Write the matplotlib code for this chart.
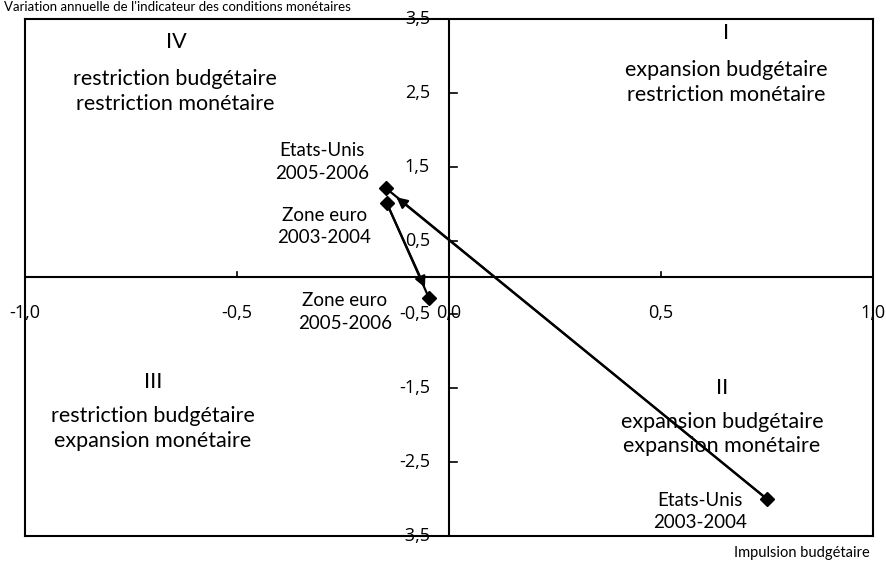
import matplotlib
matplotlib.use("Agg")
import matplotlib.pyplot as plt

plt.rcParams['font.family'] = ['Lato', 'DejaVu Sans']

# points (impulsion budgétaire, variation ICM)
us_x = [0.75, -0.149]
us_y = [-3.0, 1.21]
ze_x = [-0.147, -0.047]
ze_y = [1.01, -0.28]

xticks = [-1.0, -0.5, 0.0, 0.5, 1.0]
yticks = [3.5, 2.5, 1.5, 0.5, -0.5, -1.5, -2.5, -3.5]


def fr(v):
    return f"{v:.1f}".replace(".", ",")


fig = plt.figure(figsize=(8.86, 5.61), dpi=100)
ax = fig.add_axes([0.0282, 0.0446, 0.9571, 0.9216])
ax.set_xlim(-1.0, 1.0)
ax.set_ylim(-3.5, 3.5)

# outer frame
for s in ax.spines.values():
    s.set_linewidth(1.5)
    s.set_color('black')

# axes through origin
ax.axhline(0, color='black', lw=1.5)
ax.axvline(0, color='black', lw=1.5)
ax.set_xticks([])
ax.set_yticks([])

# tick marks and labels on the central axes
tkw = dict(fontsize=13, family=['Open Sans', 'DejaVu Sans'])
for t in xticks:
    ax.plot([t, t], [0, 0.08], color='black', lw=1.2)
    ax.text(t, -0.48, fr(t), ha='center', va='center', **tkw)
for t in yticks:
    ax.plot([0, 0.018], [t, t], color='black', lw=1.2)
    ax.text(-0.045, t, fr(t), ha='right', va='center', **tkw)

# series
ax.plot(us_x, us_y, color='black', lw=1.6, marker='D', ms=7.5, mfc='black')
ax.plot(ze_x, ze_y, color='black', lw=1.6, marker='D', ms=7.5, mfc='black')
ax.annotate('', xy=(us_x[1] + 0.02, us_y[1] - 0.1), xytext=(us_x[0], us_y[0]),
            arrowprops=dict(arrowstyle='-|>', color='black', lw=1.6, mutation_scale=16))
ax.annotate('', xy=(ze_x[1] - 0.007, ze_y[1] + 0.11), xytext=(ze_x[0], ze_y[0]),
            arrowprops=dict(arrowstyle='-|>', color='black', lw=1.6, mutation_scale=16))

# point labels
pkw = dict(ha='center', va='center', fontsize=13.5, linespacing=1.4)
ax.text(-0.30, 1.56, "Etats-Unis\n2005-2006", **pkw)
ax.text(-0.294, 0.69, "Zone euro\n2003-2004", **pkw)
ax.text(-0.246, -0.47, "Zone euro\n2005-2006", **pkw)
ax.text(0.592, -3.17, "Etats-Unis\n2003-2004", **pkw)

# quadrant labels
qkw = dict(ha='center', va='center', fontsize=15.5, linespacing=1.3)
nkw = dict(ha='center', va='center', fontsize=15.5)
ax.text(-0.642, 3.19, "IV", **nkw)
ax.text(-0.646, 2.52, "restriction budgétaire\nrestriction monétaire", **qkw)
ax.text(0.653, 3.31, "I", **nkw)
ax.text(0.653, 2.64, "expansion budgétaire\nrestriction monétaire", **qkw)
ax.text(-0.698, -1.41, "III", **nkw)
ax.text(-0.698, -2.04, "restriction budgétaire\nexpansion monétaire", **qkw)
ax.text(0.644, -1.50, "II", **nkw)
ax.text(0.644, -2.12, "expansion budgétaire\nexpansion monétaire", **qkw)

fig.text(0.005, 0.999, "Variation annuelle de l'indicateur des conditions monétaires",
         ha='left', va='top', fontsize=9.5)
fig.text(0.982, 0.014, "Impulsion budgétaire", ha='right', va='center', fontsize=10.5)

fig.savefig("out.png", dpi=100)
